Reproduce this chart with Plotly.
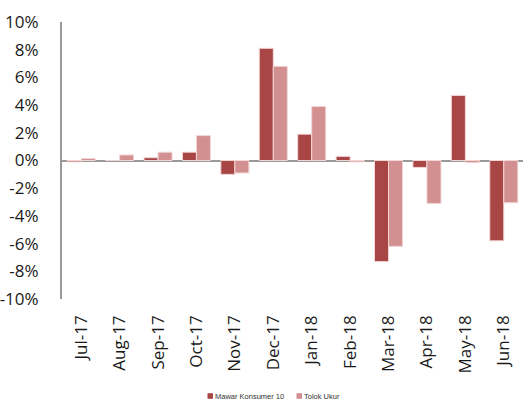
import plotly.graph_objects as go

months = ["Jul-17", "Aug-17", "Sep-17", "Oct-17", "Nov-17", "Dec-17",
          "Jan-18", "Feb-18", "Mar-18", "Apr-18", "May-18", "Jun-18"]
mawar = [-0.1, 0.0, 0.2, 0.6, -1.0, 8.1, 1.9, 0.3, -7.3, -0.5, 4.7, -5.8]
tolok = [0.15, 0.4, 0.6, 1.8, -0.9, 6.8, 3.9, -0.1, -6.2, -3.1, -0.15, -3.05]
yticks = [-10, -8, -6, -4, -2, 0, 2, 4, 6, 8, 10]
ytick_labels = [f"{v}%" for v in yticks]
series_names = ["Mawar Konsumer 10", "Tolok Ukur"]
colors = ["#A84545", "#D39090"]

W, H = 525, 401
ML, MR, MT, MB = 62, 2, 22, 102
PW, PH = W - ML - MR, H - MT - MB

fig = go.Figure()
for name, vals, col in zip(series_names, [mawar, tolok], colors):
    fig.add_trace(go.Bar(x=months, y=vals, name=name, showlegend=False,
                         marker=dict(color=col, line=dict(color="#F2D6D6", width=1))))

# legend drawn as small squares + text (Excel style)
def px_x(p):
    return (p - ML) / PW

def px_y(p):
    return (H - MB - p) / PH

legend_pos = [(207.5, 214), (296.5, 303)]
leg_y = 396
for name, col, (sq, tx) in zip(series_names, colors, legend_pos):
    fig.add_shape(type="rect", xref="paper", yref="paper",
                  x0=px_x(sq), x1=px_x(sq + 5.5), y0=px_y(leg_y + 2.8), y1=px_y(leg_y - 2.8),
                  fillcolor=col, line=dict(width=0))
    fig.add_annotation(text=name, xref="paper", yref="paper", x=px_x(tx), y=px_y(leg_y),
                       xanchor="left", yanchor="middle", showarrow=False, borderpad=0,
                       font=dict(size=7.5, color="#333", family="Liberation Sans, Arial, sans-serif"))

fig.update_layout(
    width=W, height=H,
    margin=dict(l=ML, r=MR, t=MT, b=MB),
    paper_bgcolor="white", plot_bgcolor="white",
    barmode="group", bargap=0.27, bargroupgap=0,
    font=dict(family="Open Sans, Liberation Sans, sans-serif", color="#1a1a1a"),
    showlegend=False,
    xaxis=dict(tickangle=-90, tickfont=dict(size=17), showline=False,
               showgrid=False, ticks="", ticklabelstandoff=12, automargin=False),
    yaxis=dict(range=[-10, 10], tickvals=yticks, ticktext=ytick_labels,
               tickfont=dict(size=17), showgrid=False, showline=True,
               linecolor="#999", linewidth=2, zeroline=True, zerolinecolor="#999",
               zerolinewidth=2, ticks="", ticklabelstandoff=18, automargin=False),
)

fig.write_html("out.html", config={"displayModeBar": False},
               post_script="document.body.style.margin='0';document.body.style.overflow='hidden';")
